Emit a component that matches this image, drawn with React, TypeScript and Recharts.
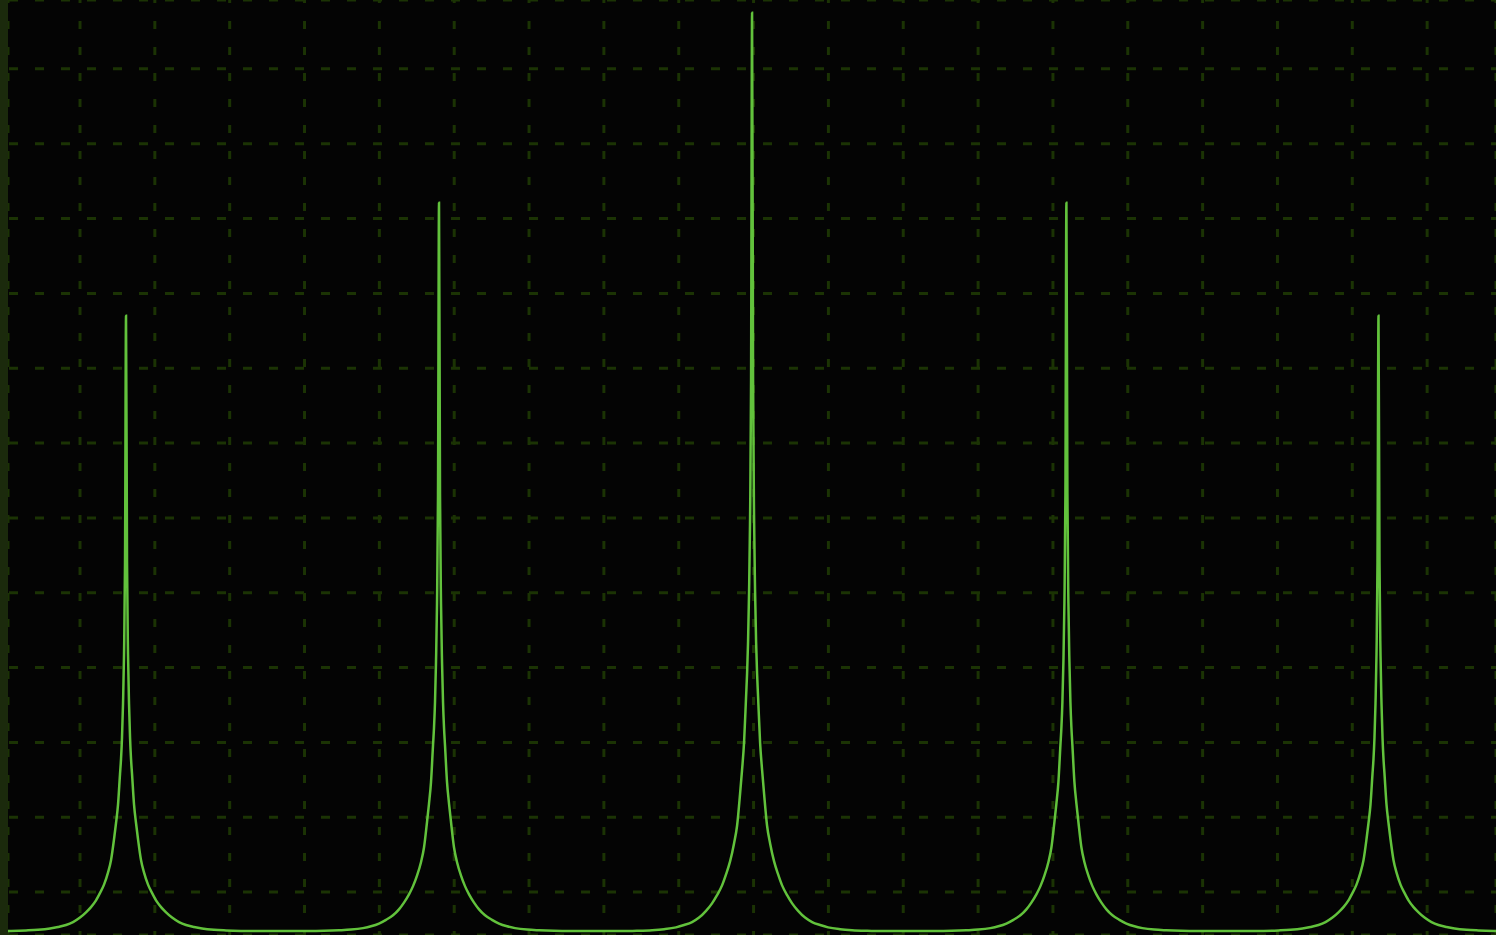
import { LineChart, Line, XAxis, YAxis, CartesianGrid } from "recharts"

// x and y are measured in grid squares; y = 0 is the flat baseline
const PEAK_CENTERS = [0.615, 4.797, 8.98, 13.18, 17.35]

// distance from the peak centre (grid squares)
const SIDE_OFFSETS = [
    0, 0.0134, 0.0267, 0.0401, 0.0535, 0.0668, 0.0802, 0.107, 0.134, 0.16, 0.2, 0.241, 0.294,
    0.347, 0.401, 0.468, 0.535, 0.615, 0.708, 0.802, 0.909, 1.016, 1.176, 1.336, 1.537, 1.737,
]

// height of the trace at each offset, one list per peak (same on both sides)
const PEAK_1 = [8.22, 4.93, 3.7, 3.04, 2.59, 2.3, 2.1, 1.69, 1.44, 1.23, 0.95, 0.78, 0.62, 0.51, 0.41, 0.32, 0.25, 0.18, 0.12, 0.08, 0.053, 0.033, 0.016, 0.008, 0.002, 0]
const PEAK_2 = [9.73, 5.84, 4.38, 3.6, 3.06, 2.72, 2.48, 1.99, 1.7, 1.46, 1.12, 0.92, 0.74, 0.6, 0.49, 0.38, 0.29, 0.21, 0.15, 0.1, 0.063, 0.039, 0.019, 0.01, 0.003, 0]
const PEAK_3 = [12.27, 7.36, 5.52, 4.54, 3.87, 3.44, 3.13, 2.52, 2.15, 1.84, 1.41, 1.17, 0.93, 0.76, 0.61, 0.48, 0.37, 0.27, 0.18, 0.12, 0.08, 0.049, 0.025, 0.012, 0.004, 0]
const PEAK_4 = [9.73, 5.84, 4.38, 3.6, 3.06, 2.72, 2.48, 1.99, 1.7, 1.46, 1.12, 0.92, 0.74, 0.6, 0.49, 0.38, 0.29, 0.21, 0.15, 0.1, 0.063, 0.039, 0.019, 0.01, 0.003, 0]
const PEAK_5 = [8.22, 4.93, 3.7, 3.04, 2.59, 2.3, 2.1, 1.69, 1.44, 1.23, 0.95, 0.78, 0.62, 0.51, 0.41, 0.32, 0.25, 0.18, 0.12, 0.08, 0.053, 0.033, 0.016, 0.008, 0.002, 0]

const GRID_X = [0, 1, 2, 3, 4, 5, 6, 7, 8, 9, 10, 11, 12, 13, 14, 15, 16, 17, 18]
const GRID_Y = [0.52, 1.52, 2.52, 3.52, 4.52, 5.52, 6.52, 7.52, 8.52, 9.52, 10.52, 11.52]

const PEAKS = [PEAK_1, PEAK_2, PEAK_3, PEAK_4, PEAK_5]

// build the trace: each peak mirrored around its centre
const trace: { x: number; y: number }[] = []
PEAKS.forEach((levels, i) => {
    const c = PEAK_CENTERS[i]
    for (let k = SIDE_OFFSETS.length - 1; k > 0; k--) {
        trace.push({ x: c - SIDE_OFFSETS[k], y: levels[k] })
    }
    trace.push({ x: c, y: levels[0] })
    for (let k = 1; k < SIDE_OFFSETS.length; k++) {
        trace.push({ x: c + SIDE_OFFSETS[k], y: levels[k] })
    }
})

const GRID_COLOR = "#1b3304"

export default function App() {
    return (
        <div
            style={{
                position: "fixed",
                left: 0,
                top: 0,
                width: 1488,
                height: 935,
                background: "#040404",
                borderLeft: "8px solid #1b2a0c",
                overflow: "hidden",
            }}
        >
            <LineChart width={1488} height={935} data={trace} margin={{ top: 0, right: 0, bottom: 0, left: 0 }}>
                {/* two grids so the dash phase of each direction can be set on its own */}
                <CartesianGrid vertical={false} stroke={GRID_COLOR} strokeWidth={3} strokeDasharray="9 17" strokeDashoffset={-1} />
                <CartesianGrid horizontal={false} stroke={GRID_COLOR} strokeWidth={3} strokeDasharray="8 18" strokeDashoffset={5} />
                <XAxis
                    dataKey="x"
                    type="number"
                    domain={[-0.962, 18.92]}
                    ticks={GRID_X}
                    allowDataOverflow
                    hide
                />
                <YAxis type="number" domain={[-0.053, 12.44]} ticks={GRID_Y} allowDataOverflow hide />
                <Line
                    type="monotone"
                    dataKey="y"
                    stroke="#62c23c"
                    strokeWidth={2.5}
                    dot={false}
                    activeDot={false}
                    isAnimationActive={false}
                />
            </LineChart>
        </div>
    )
}
